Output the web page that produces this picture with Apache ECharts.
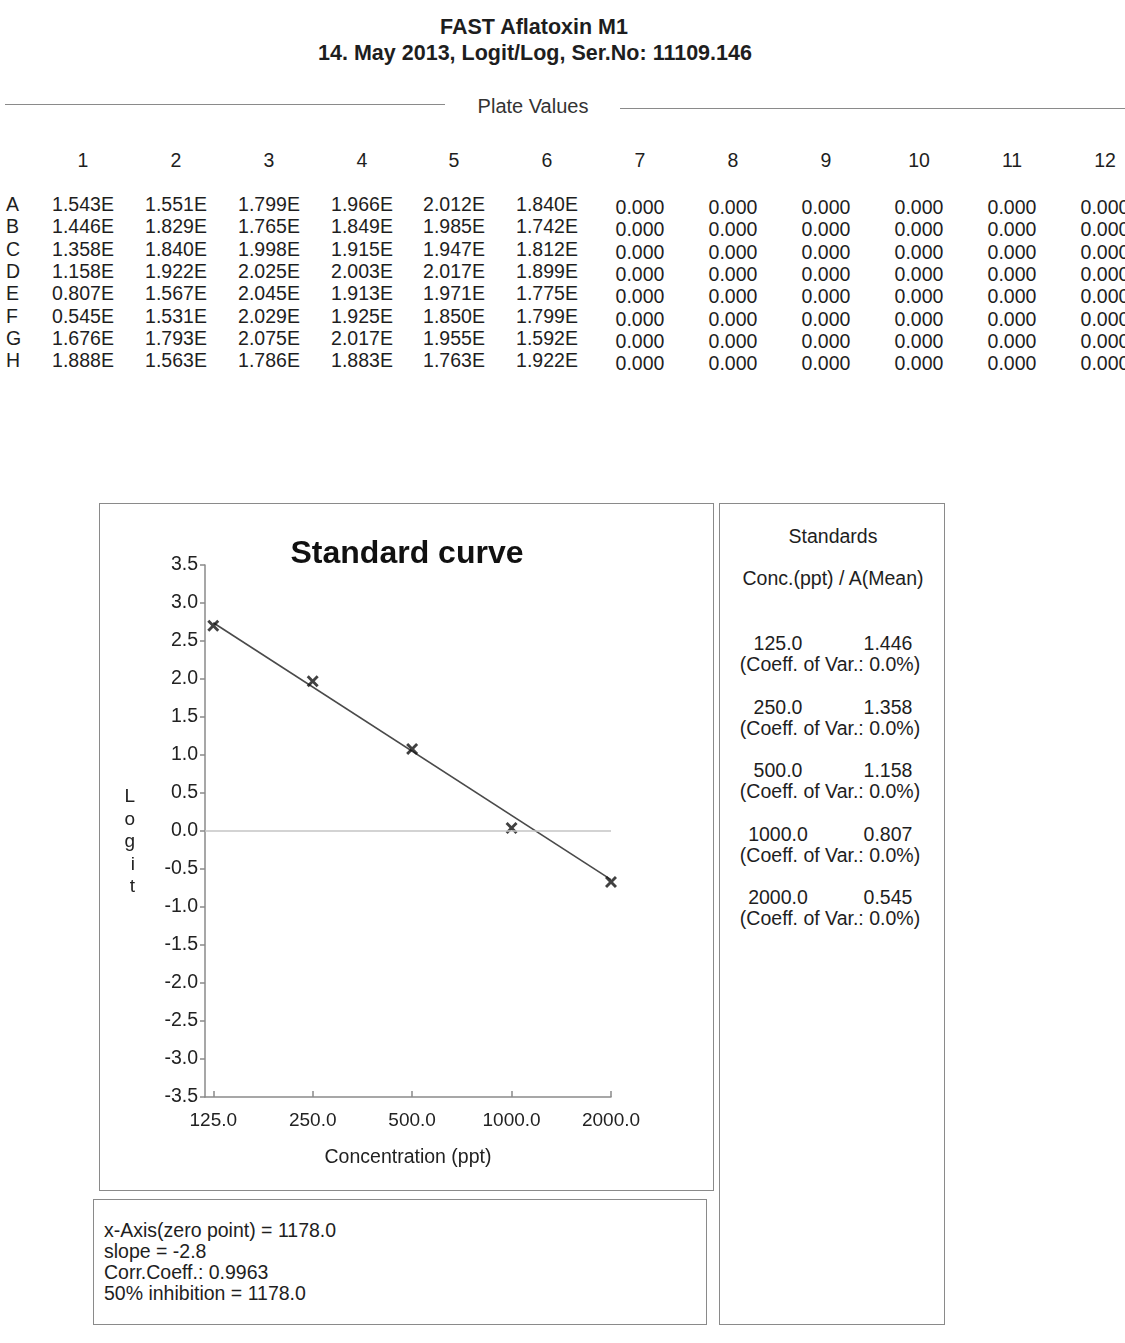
<!DOCTYPE html>
<html>
<head>
<meta charset="utf-8">
<script src="https://cdn.jsdelivr.net/npm/echarts@6/dist/echarts.min.js"></script>
<style>
  html, body { margin:0; padding:0; background:#fff; }
  body { width:1125px; height:1343px; position:relative; overflow:hidden;
         font-family:"Liberation Sans", Arial, sans-serif; color:#1e1e1e; }
  .abs { position:absolute; white-space:nowrap; line-height:1.15; }
  .c { transform:translateX(-50%); }
  .box { position:absolute; border:1.5px solid #8a8a8a; box-sizing:border-box; }
  .hline { position:absolute; height:0; border-top:1.5px solid #8a8a8a; }
  #chart { position:absolute; left:0; top:0; width:1125px; height:1343px; }
</style>
</head>
<body>
<div id="page"></div>
<div id="chart"></div>
<script>
// ---------- data ----------
const headerTitle = "FAST Aflatoxin M1";
const headerSub = "14. May 2013, Logit/Log, Ser.No: 11109.146";
const plateCols = ["1","2","3","4","5","6","7","8","9","10","11","12"];
const plateRows = ["A","B","C","D","E","F","G","H"];
const plateA = ["1.543E","1.551E","1.799E","1.966E","2.012E","1.840E","0.000","0.000","0.000","0.000","0.000","0.000"];
const plateB = ["1.446E","1.829E","1.765E","1.849E","1.985E","1.742E","0.000","0.000","0.000","0.000","0.000","0.000"];
const plateC = ["1.358E","1.840E","1.998E","1.915E","1.947E","1.812E","0.000","0.000","0.000","0.000","0.000","0.000"];
const plateD = ["1.158E","1.922E","2.025E","2.003E","2.017E","1.899E","0.000","0.000","0.000","0.000","0.000","0.000"];
const plateE = ["0.807E","1.567E","2.045E","1.913E","1.971E","1.775E","0.000","0.000","0.000","0.000","0.000","0.000"];
const plateF = ["0.545E","1.531E","2.029E","1.925E","1.850E","1.799E","0.000","0.000","0.000","0.000","0.000","0.000"];
const plateG = ["1.676E","1.793E","2.075E","2.017E","1.955E","1.592E","0.000","0.000","0.000","0.000","0.000","0.000"];
const plateH = ["1.888E","1.563E","1.786E","1.883E","1.763E","1.922E","0.000","0.000","0.000","0.000","0.000","0.000"];

const stdConc = [125, 250, 500, 1000, 2000];          // Concentration (ppt)
const stdLogit = [2.70, 1.97, 1.08, 0.04, -0.67];     // Logit of standards
const stdMean = ["1.446", "1.358", "1.158", "0.807", "0.545"];
const stdCV = ["0.0%", "0.0%", "0.0%", "0.0%", "0.0%"];
const fitConc = [125, 2000];                          // regression line ends
const fitLogit = [2.74, -0.64];
const yTicks = [-3.5, 3.5, 0.5];                      // min, max, step
const statsLines = ["x-Axis(zero point) = 1178.0", "slope = -2.8", "Corr.Coeff.: 0.9963", "50% inhibition = 1178.0"];

// ---------- page text (HTML) ----------
const page = document.getElementById('page');
function txt(s, x, y, css, center) {
  const d = document.createElement('div');
  d.className = 'abs' + (center ? ' c' : '');
  d.style.left = x + 'px'; d.style.top = y + 'px';
  d.style.cssText += css || '';
  d.textContent = s;
  page.appendChild(d);
  return d;
}
function box(x, y, w, h) {
  const d = document.createElement('div');
  d.className = 'box';
  Object.assign(d.style, {left:x+'px', top:y+'px', width:w+'px', height:h+'px'});
  page.appendChild(d);
}
function hline(x, y, w) {
  const d = document.createElement('div');
  d.className = 'hline';
  Object.assign(d.style, {left:x+'px', top:y+'px', width:w+'px'});
  page.appendChild(d);
}
const F = 'font-size:19.5px;';
txt(headerTitle, 534, 15, 'font-size:21.5px;font-weight:bold;', true);
txt(headerSub, 535, 41, 'font-size:21.5px;font-weight:bold;', true);
hline(5, 104, 440);
hline(620, 108, 505);
txt("Plate Values", 533, 95, 'font-size:20px;color:#333;', true);

const colX = [83, 176, 269, 362, 454, 547, 640, 733, 826, 919, 1012, 1105];
plateCols.forEach((c, i) => txt(c, colX[i], 149, F, true));
const rows = [plateA, plateB, plateC, plateD, plateE, plateF, plateG, plateH];
rows.forEach((r, j) => {
  const y = 193 + j * 22.3;
  txt(plateRows[j], 6, y, F);
  r.forEach((v, i) => txt(v, colX[i], y + (i >= 6 ? 3 : 0), F, true));
});

// panels
box(99, 503, 615, 688);
box(93, 1199, 614, 126);
box(719, 503, 226, 822);

txt("Standards", 833, 525, F, true);
txt("Conc.(ppt) / A(Mean)", 833, 567, F, true);
stdConc.forEach((c, i) => {
  const y = 632 + i * 63.5;
  txt(c.toFixed(1), 778, y, F, true);
  txt(stdMean[i], 888, y, F, true);
  txt("(Coeff. of Var.: " + stdCV[i] + ")", 830, y + 21, F, true);
});
statsLines.forEach((s, i) => txt(s, 104, 1219 + i * 21, F));

// ---------- chart ----------
const chart = echarts.init(document.getElementById('chart'), null, {renderer: 'canvas'});
const lg = v => Math.log2(v);
const FF = 'Liberation Sans, Arial, sans-serif';
chart.setOption({
  backgroundColor: 'transparent',
  animation: false,
  title: {
    text: 'Standard curve', left: 402, top: 533, textAlign: 'center',
    textStyle: {fontFamily: FF, fontSize: 32, fontWeight: 'bold', color: '#111'}
  },
  grid: {left: 205, top: 565, width: 406, height: 532, containLabel: false},
  xAxis: {
    type: 'value',
    min: lg(118), max: lg(2000),
    name: 'Concentration (ppt)', nameLocation: 'middle', nameGap: 51,
    nameTextStyle: {fontFamily: FF, fontSize: 19.5, color: '#222'},
    axisLine: {onZero: false, lineStyle: {color: '#8a8a8a', width: 1.5}},
    axisTick: {show: true, length: 6, inside: true, customValues: stdConc.map(lg), lineStyle: {color: '#8a8a8a', width: 1.5}},
    axisLabel: {customValues: stdConc.map(lg), formatter: v => Math.pow(2, v).toFixed(1), margin: 14,
      fontFamily: FF, fontSize: 19, color: '#222'},
    splitLine: {show: false}
  },
  yAxis: {
    type: 'value', min: yTicks[0], max: yTicks[1], interval: yTicks[2],
    name: '\nL\no\ng\ni\nt', nameLocation: 'middle', nameRotate: 0, nameGap: 70,
    nameTextStyle: {fontFamily: FF, fontSize: 19, color: '#222', lineHeight: 22.5},
    axisLine: {show: true, onZero: false, lineStyle: {color: '#8a8a8a', width: 1.5}},
    axisTick: {show: true, length: 5, lineStyle: {color: '#8a8a8a', width: 1.5}},
    axisLabel: {formatter: v => v.toFixed(1), margin: 7, fontFamily: FF, fontSize: 19.5, color: '#222'},
    splitLine: {show: false}
  },
  series: [
    {
      type: 'line', data: fitConc.map((c, i) => [lg(c), fitLogit[i]]),
      showSymbol: false, symbol: 'none',
      lineStyle: {color: '#4a4a4a', width: 1.6},
      markLine: {
        silent: true, symbol: 'none', label: {show: false},
        lineStyle: {color: '#c4c4c4', width: 1.5, type: 'solid'},
        data: [{yAxis: 0}]
      },
      z: 2
    },
    {
      type: 'scatter', data: stdConc.map((c, i) => [lg(c), stdLogit[i]]),
      symbol: 'path://M0,1.7L1.7,0L5,3.3L8.3,0L10,1.7L6.7,5L10,8.3L8.3,10L5,6.7L1.7,10L0,8.3L3.3,5Z',
      symbolSize: 12, itemStyle: {color: '#111'}, z: 3
    }
  ]
});
</script>
</body>
</html>
